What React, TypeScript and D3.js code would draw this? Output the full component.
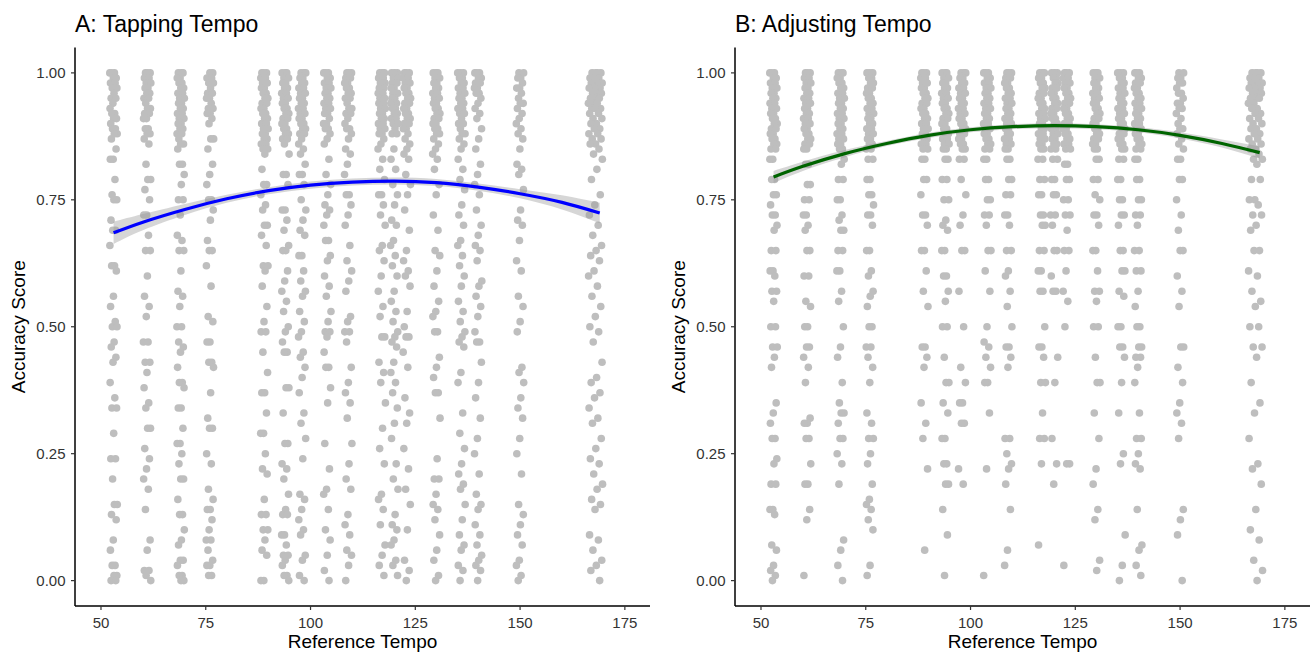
import React from "react";
import * as d3 from "d3";

// ---------------- DATA ----------------
const tempos = [53, 61, 69, 76, 89, 94, 98, 104, 109, 117, 120, 123, 130, 136, 140, 150, 168];

// Accuracy scores (hundredths) per reference tempo
const tappingScores = [
  "100 100 100 99 99 98 98 97 97 96 95 95 94 93 92 92 91 91 90 89 89 88 88 87 85 83 83 79 76 75 75 71 69 69 66 62 62 61 56 54 51 50 50 47 46 44 43 39 36 34 34 29 24 24 20 15 15 13 12 8 6 3 3 1 1 0 0",
  "100 100 100 99 99 98 98 97 97 96 96 95 95 94 93 93 92 92 91 91 89 89 88 88 87 86 82 79 79 77 75 72 72 68 65 65 60 56 54 52 47 47 43 43 41 38 35 34 30 30 26 24 22 20 18 14 8 6 2 2 1 0",
  "100 100 100 99 99 98 98 97 97 96 96 95 95 94 94 93 93 92 92 91 91 90 90 89 89 88 88 87 86 86 85 82 82 80 78 75 75 72 68 67 65 65 61 57 56 54 50 50 47 46 45 42 39 39 38 34 34 30 27 27 25 23 20 20 16 13 13 10 8 7 4 4 3 1 1 0 0",
  "100 100 99 99 98 98 97 96 96 95 95 94 93 93 92 92 91 90 87 87 85 82 80 78 75 75 73 71 67 65 65 62 58 52 51 47 47 43 43 42 37 32 30 30 25 23 18 16 14 14 12 10 8 8 6 4 3 3 1 1",
  "100 100 100 99 99 98 98 97 97 96 96 95 95 94 94 93 93 92 92 91 91 90 90 89 89 88 88 87 87 86 86 85 85 84 81 78 78 76 74 73 70 70 68 66 62 62 61 58 54 51 49 49 45 41 37 37 33 29 29 25 22 21 16 13 13 10 10 8 6 5 0 0",
  "100 100 100 99 99 98 98 97 97 96 96 95 95 94 94 93 93 92 92 91 91 90 90 89 89 88 88 87 87 86 84 80 80 78 73 73 71 69 66 65 65 61 59 57 55 53 50 49 47 45 45 38 38 33 27 27 23 22 20 17 14 13 13 9 9 7 5 5 4 3 1 1 0",
  "100 100 100 99 99 98 98 97 97 96 96 95 95 94 94 93 93 92 92 91 91 90 90 89 89 88 88 87 86 85 84 82 80 80 78 75 73 71 69 68 64 64 61 59 57 56 53 51 49 48 45 44 42 40 37 33 31 28 24 17 16 14 12 10 9 5 4 1 0",
  "100 100 100 99 99 98 98 97 97 96 96 95 95 94 94 93 93 92 92 91 90 90 89 89 88 87 86 83 80 78 76 74 73 72 70 67 67 64 63 60 58 56 53 51 49 49 48 45 42 42 38 35 27 22 18 17 14 10 8 5 2 0",
  "100 100 100 99 99 98 98 97 97 96 96 95 95 94 93 93 92 92 91 90 89 89 88 87 85 84 82 80 76 76 74 72 70 66 63 61 59 57 52 51 49 49 47 42 39 37 35 32 27 23 20 18 13 11 9 6 5 3 0",
  "100 100 100 99 99 99 98 98 98 97 97 96 96 96 95 95 94 94 94 93 93 92 92 91 91 90 90 89 89 88 88 87 86 85 83 81 79 76 76 74 72 70 66 65 63 60 57 54 52 48 48 43 41 39 35 30 26 23 17 16 14 11 7 5 3 1",
  "100 100 100 99 99 99 98 98 98 97 97 96 96 96 95 95 94 94 94 93 93 92 92 91 91 90 90 89 88 88 85 83 81 78 76 74 71 70 67 66 64 62 60 57 55 53 51 49 48 47 46 43 41 39 37 34 31 28 23 20 18 13 11 10 8 7 4 3 1",
  "100 100 100 99 99 98 98 97 97 96 96 95 95 94 94 93 93 92 92 91 91 90 90 89 89 88 87 86 85 84 83 80 78 76 73 69 65 63 61 60 58 53 50 48 48 45 42 36 33 31 26 22 18 15 10 4 2 0",
  "100 100 100 99 99 98 98 97 97 96 96 95 95 94 94 93 93 92 92 91 91 90 90 89 89 88 88 87 86 85 84 83 81 78 76 72 69 65 64 61 58 55 53 52 49 49 44 42 40 37 37 32 24 20 20 17 15 14 12 9 6 4 1 0",
  "100 100 100 99 99 98 98 97 97 96 96 95 95 94 94 93 93 92 92 91 90 90 89 88 88 87 86 85 83 81 79 77 74 72 70 67 66 64 62 60 58 55 53 51 49 48 47 46 41 39 33 29 26 23 21 19 18 15 12 9 7 6 3 2 0",
  "100 100 100 99 99 98 98 97 97 96 96 95 94 93 92 91 89 87 85 82 80 78 76 73 70 68 66 65 63 59 58 56 54 52 49 47 47 43 39 36 32 28 25 21 17 15 14 11 9 7 5 4 3 2 0",
  "100 100 99 99 98 97 97 96 95 94 94 93 92 91 90 89 88 87 85 82 81 80 77 73 71 70 67 63 61 56 54 51 49 42 41 39 36 34 32 28 25 21 15 13 11 9 7 4 3 1 0",
  "100 100 100 100 99 99 99 98 98 98 97 97 97 96 96 96 95 95 95 94 94 94 93 93 93 92 92 91 91 90 90 89 89 88 88 87 87 86 86 85 84 83 81 79 76 74 72 70 68 66 65 64 63 61 60 58 56 54 52 50 49 47 43 40 39 37 36 34 32 31 28 26 24 23 21 19 18 16 15 14 9 8 6 4 3 2 0",
];

const adjustingScores = [
  "100 100 100 99 99 98 98 97 97 96 96 95 95 94 94 93 93 92 92 91 91 90 90 89 89 88 88 87 87 86 86 85 85 83 83 79 79 76 76 74 72 72 70 69 65 65 61 61 60 57 57 55 50 50 46 46 44 42 35 33 31 28 28 24 23 19 19 14 14 13 7 6 3 2 1 0",
  "100 100 100 99 99 98 98 97 97 96 96 95 95 94 94 93 93 92 92 91 91 90 90 89 89 88 88 87 87 86 86 85 85 82 82 78 78 75 75 72 72 70 69 65 65 60 60 55 54 50 50 46 46 44 42 39 32 31 31 28 28 23 19 19 14 12 1",
  "100 100 100 99 99 98 98 97 97 96 96 95 95 94 94 93 93 92 92 91 91 90 90 89 89 88 88 87 87 86 86 85 85 83 82 79 79 75 75 72 71 69 69 65 65 61 61 57 55 50 46 44 39 35 33 33 31 28 28 25 23 19 8 6 3 0",
  "100 100 100 99 99 98 98 97 97 96 96 95 95 94 94 93 93 92 92 91 91 90 90 89 89 88 88 87 87 86 86 85 85 83 83 79 79 76 76 74 72 72 70 65 65 61 60 57 56 54 50 50 46 46 44 42 39 33 31 28 28 25 23 19 16 15 14 12 10 3 1",
  "100 100 100 99 99 98 98 97 97 96 96 95 95 94 94 93 93 92 92 91 91 90 90 89 89 88 88 87 87 86 86 85 85 83 83 79 79 76 72 72 70 65 65 61 57 54 46 46 44 42 35 31 28 22 6",
  "100 100 100 99 99 98 98 97 97 96 96 95 95 94 94 93 93 92 92 91 91 90 90 89 89 88 88 87 87 86 86 85 85 83 83 79 79 75 75 71 70 69 65 65 60 60 57 55 50 50 44 39 39 35 33 28 28 23 23 19 19 14 9 1",
  "100 100 100 99 99 98 98 97 97 96 96 95 95 94 94 93 93 92 92 91 91 90 90 89 89 88 88 87 87 86 86 85 85 83 83 79 76 72 70 65 65 57 50 42 39 35 35 31 31 22 19",
  "100 100 100 99 99 98 98 97 97 96 96 95 95 94 94 93 93 92 92 91 91 90 90 89 89 88 88 87 87 86 86 85 85 83 83 79 79 75 75 72 72 70 65 65 61 57 50 47 46 44 42 39 39 33 22 1",
  "100 100 100 99 99 98 98 97 97 96 96 95 95 94 94 93 93 92 92 91 91 90 90 89 89 88 88 87 87 86 86 85 85 83 83 79 79 76 76 72 72 70 65 65 61 60 57 54 50 46 46 44 42 28 28 25 23 22 19 14 6 3",
  "100 100 100 99 99 98 98 97 97 96 96 95 95 94 94 93 93 92 92 91 91 90 90 89 89 88 88 87 87 86 86 85 85 83 83 79 79 76 76 72 72 70 70 65 65 61 61 57 57 50 46 46 44 39 39 33 28 28 23 7",
  "100 100 100 99 99 98 98 97 97 96 96 95 95 94 94 93 93 92 92 91 91 90 90 89 89 88 88 87 87 86 86 85 85 83 83 79 79 76 76 72 72 70 65 65 60 57 57 44 39 28 23 19",
  "100 100 100 99 99 98 98 97 97 96 96 95 95 94 94 93 93 92 92 91 91 90 90 89 89 88 88 87 87 86 86 85 85 82 82 79 79 75 75 72 72 69 65 65 61 57 55 50 23 23 3",
  "100 100 100 99 99 98 98 97 97 96 96 95 95 94 94 93 93 92 92 91 91 90 90 89 89 88 88 87 87 86 86 85 85 83 83 79 79 76 75 72 72 70 65 65 61 57 57 55 50 50 44 39 39 33 28 22 19 14 12 4 2",
  "100 100 100 99 99 98 98 97 97 96 96 95 95 94 94 93 93 92 92 91 91 90 90 89 89 88 88 87 87 86 86 85 85 83 83 79 79 75 75 72 72 70 65 65 61 61 57 56 50 50 46 46 44 39 33 25 23 9 3 0",
  "100 100 100 99 99 98 98 97 97 96 96 95 95 94 94 93 93 92 92 91 91 90 90 89 89 88 88 87 87 86 86 85 85 83 83 79 79 75 75 72 72 70 65 65 61 61 57 54 50 50 46 46 44 44 42 39 33 28 28 25 23 22 14 7 6 3 1",
  "100 100 99 99 98 98 97 96 96 95 94 94 93 93 92 91 90 89 89 88 87 86 85 83 83 79 79 75 72 69 65 65 60 57 54 46 46 42 39 35 33 31 28 14 12 9 0",
  "100 100 100 100 99 99 99 98 98 98 97 97 97 96 96 96 95 95 95 94 94 93 93 92 92 91 91 90 90 89 89 88 88 87 87 86 86 85 85 84 83 83 82 79 79 75 75 74 72 72 70 69 65 65 61 60 57 55 54 50 50 46 46 44 39 35 33 28 23 22 19 14 10 8 4 2 0",
];

// Quadratic smooth
const fitTempos = [53, 60, 70, 80, 90, 100, 110, 120, 130, 140, 150, 160, 169];
const tappingFit = [0.685, 0.706, 0.731, 0.752, 0.768, 0.779, 0.785, 0.787, 0.784, 0.775, 0.762, 0.745, 0.724];
const tappingSE = [0.022, 0.016, 0.011, 0.008, 0.007, 0.007, 0.007, 0.007, 0.007, 0.007, 0.009, 0.014, 0.02];
const adjustingFit = [0.795, 0.816, 0.841, 0.861, 0.877, 0.888, 0.894, 0.896, 0.894, 0.888, 0.877, 0.861, 0.843];
const adjustingSE = [0.012, 0.009, 0.007, 0.005, 0.005, 0.005, 0.005, 0.005, 0.005, 0.005, 0.006, 0.008, 0.012];

const xTicks = [50, 75, 100, 125, 150, 175];
const yTicks = [0, 0.25, 0.5, 0.75, 1];

const FONT = "'Liberation Sans', Arial, Helvetica, sans-serif";

function parseScores(s: string): number[] {
  return s.trim().split(/\s+/).map((v) => +v / 100);
}

type PanelProps = {
  left: number;
  title: string;
  scores: string[];
  fit: number[];
  se: number[];
  color: string;
};

function Panel({ left, title, scores, fit, se, color }: PanelProps) {
  const right = left + 575;
  const top = 47.5;
  const bottom = 606;
  const x = d3.scaleLinear().domain([43.8, 181]).range([left, right]);
  const y = d3.scaleLinear().domain([-0.05, 1.05]).range([bottom, top]);

  const points: { cx: number; cy: number }[] = [];
  tempos.forEach((t, k) => {
    const vals = parseScores(scores[k]);
    const half = t > 160 ? 1.7 : 0.9;
    vals.forEach((v, i) => {
      const u = ((i * 0.6180339887 + k * 0.29) % 1) * 2 - 1;
      points.push({ cx: x(t + u * half), cy: y(v) });
    });
  });

  const band = d3
    .area<number>()
    .x((_, i) => x(fitTempos[i]))
    .y0((d, i) => y(d - se[i]))
    .y1((d, i) => y(d + se[i]))
    .curve(d3.curveNatural);
  const line = d3
    .line<number>()
    .x((_, i) => x(fitTempos[i]))
    .y((d) => y(d))
    .curve(d3.curveNatural);

  return (
    <g>
      <text x={left} y={32} fontSize={23} fontFamily={FONT} fill="#000">
        {title}
      </text>
      {points.map((p, i) => (
        <circle key={i} cx={p.cx} cy={p.cy} r={3.8} fill="#bebebe" />
      ))}
      <path d={band(fit) || ""} fill="#999999" fillOpacity={0.4} />
      <path d={line(fit) || ""} fill="none" stroke={color} strokeWidth={3.2} />
      <line x1={left} x2={left} y1={top} y2={bottom} stroke="#000" strokeWidth={1.5} />
      <line x1={left} x2={right} y1={bottom} y2={bottom} stroke="#000" strokeWidth={1.5} />
      {yTicks.map((t) => (
        <g key={"y" + t}>
          <line x1={left - 4} x2={left} y1={y(t)} y2={y(t)} stroke="#333" strokeWidth={1.2} />
          <text
            x={left - 9.5}
            y={y(t)}
            dy="0.36em"
            textAnchor="end"
            fontSize={15}
            fontFamily={FONT}
            fill="#333"
          >
            {d3.format(".2f")(t)}
          </text>
        </g>
      ))}
      {xTicks.map((t) => (
        <g key={"x" + t}>
          <line x1={x(t)} x2={x(t)} y1={bottom} y2={bottom + 4} stroke="#333" strokeWidth={1.2} />
          <text x={x(t)} y={627.5} textAnchor="middle" fontSize={15} fontFamily={FONT} fill="#333">
            {t}
          </text>
        </g>
      ))}
      <text
        x={(left + right) / 2}
        y={648}
        textAnchor="middle"
        fontSize={19}
        fontFamily={FONT}
        fill="#000"
      >
        Reference Tempo
      </text>
      <text
        transform={`translate(${left - 50},${(top + bottom) / 2}) rotate(-90)`}
        textAnchor="middle"
        fontSize={19}
        fontFamily={FONT}
        fill="#000"
      >
        Accuracy Score
      </text>
    </g>
  );
}

export default function App() {
  return (
    <svg
      width={1313}
      height={655}
      style={{ position: "absolute", left: 0, top: 0, display: "block", background: "#fff" }}
    >
      <rect width={1313} height={655} fill="#fff" />
      <Panel
        left={75}
        title="A: Tapping Tempo"
        scores={tappingScores}
        fit={tappingFit}
        se={tappingSE}
        color="#0000ff"
      />
      <Panel
        left={735}
        title="B: Adjusting Tempo"
        scores={adjustingScores}
        fit={adjustingFit}
        se={adjustingSE}
        color="#006400"
      />
    </svg>
  );
}
